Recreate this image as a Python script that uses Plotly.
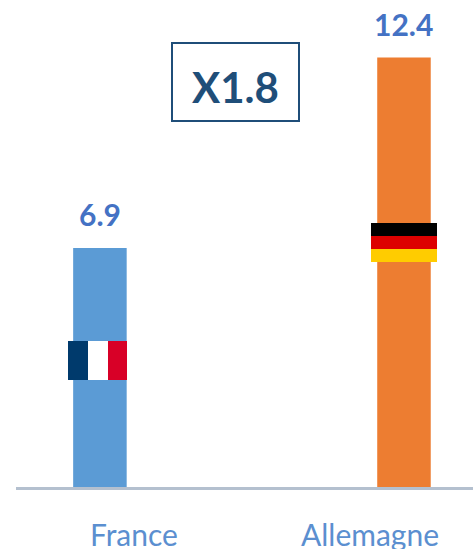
import plotly.graph_objects as go

categories = ["France", "Allemagne"]
values = [6.9, 12.4]
value_labels = ["6.9", "12.4"]
bar_colors = ["#5b9bd5", "#ed7d31"]
multiplier_label = "X1.8"

W, H = 473, 549
L, BASE = 16, 487
FONT = "Lato, Liberation Sans"
fig = go.Figure(go.Bar(
    x=[0, 1], y=values, width=0.176, marker=dict(color=bar_colors, line_width=0),
    hoverinfo="skip",
))

def py(y):
    return 1 - y / BASE
def pxf(x):
    return (x - L) / (W - L)

shapes = []
def rect(x0, y0, x1, y1, color):
    shapes.append(dict(type="rect", xref="paper", yref="paper", x0=pxf(x0), x1=pxf(x1),
                       y0=py(y1), y1=py(y0), fillcolor=color, line_width=0, layer="above"))
for x0, x1, c in [(68, 88, "#003a6c"), (88, 108, "#ffffff"), (108, 127, "#d80027")]:
    rect(x0, 341, x1, 380, c)
for y0, y1, c in [(223, 236, "#000000"), (236, 249, "#dd0000"), (249, 262, "#ffcc00")]:
    rect(371, y0, 437, y1, c)
shapes.append(dict(type="rect", xref="paper", yref="paper", x0=pxf(172), x1=pxf(299),
                   y0=py(121), y1=py(43), fillcolor="#ffffff", line=dict(color="#1f4e79", width=2), layer="above"))

annotations = [dict(text="<b>" + multiplier_label + "</b>", xref="paper", yref="paper",
                    x=pxf(235.5), y=py(87), showarrow=False, xanchor="center", yanchor="middle",
                    font=dict(family=FONT, size=42, color="#1f4e79"))]
for i, (v, t) in enumerate(zip(values, value_labels)):
    annotations.append(dict(text="<b>" + t + "</b>", x=i, y=v, xref="x", yref="y", showarrow=False,
                            xanchor="center", yanchor="middle", yshift=34,
                            font=dict(family=FONT, size=30, color="#4472c4")))
for name, cx in zip(categories, [134, 370]):
    annotations.append(dict(text=name, xref="paper", yref="paper", x=pxf(cx), y=py(534), showarrow=False,
                            xanchor="center", yanchor="middle",
                            font=dict(family=FONT, size=30, color="#5b8fd0")))

fig.update_layout(
    width=W, height=H, margin=dict(l=L, r=0, t=0, b=H - BASE, autoexpand=False),
    paper_bgcolor="#ffffff", plot_bgcolor="#ffffff", showlegend=False, shapes=shapes,
    font=dict(family=FONT), annotations=annotations,
    xaxis=dict(range=[-0.276, 1.227], tickmode="array", tickvals=[0, 1], showticklabels=False, ticks="",
               showline=True, linecolor="#b4c0cf", linewidth=3, showgrid=False, zeroline=False),
    yaxis=dict(range=[0, 14.06], visible=False),
)
fig.write_html("out.html", config=dict(displayModeBar=False),
               post_script="document.body.style.margin='0';")
